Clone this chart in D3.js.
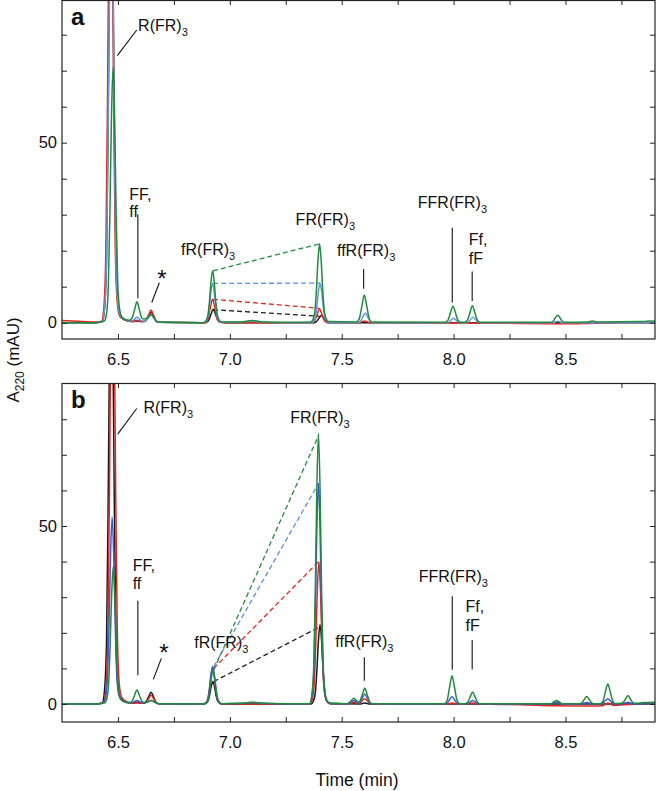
<!DOCTYPE html>
<html>
<head>
<meta charset="utf-8">
<script src="https://cdn.jsdelivr.net/npm/d3@7"></script>
<style>
	body { margin: 0; background: #fff; }
	text { font-family: "Liberation Sans", Arial, Helvetica, sans-serif; fill: #111; }
</style>
</head>
<body>
<svg id="chart" width="656" height="791"></svg>
<script>
// Trace order: black, red, blue, green
const seriesNames = ['black', 'red', 'blue', 'green'];
const xTicks = [6.5, 6.75, 7.0, 7.25, 7.5, 7.75, 8.0, 8.25, 8.5, 8.75];
const xLabels = ['6.5', '7.0', '7.5', '8.0', '8.5'];
const yTicks = [0, 10, 20, 30, 40, 50, 60, 70, 80];
const yLabels = [0, 50];

// Panel a, [time (min), A220 (mAU)]
const blackA = [[6.25,0],[6.40,0],[6.430,0.3],[6.440,3.9],[6.449,18],[6.456,55],[6.463,104],[6.470,130],[6.477,104],[6.484,55],[6.491,19],[6.500,5],[6.510,1.8],[6.53,0.8],[6.551,0.4],[6.563,0.3],[6.574,0.4],[6.585,0.5],[6.596,0.4],[6.607,0.3],[6.617,0.3],[6.626,0.6],[6.637,1.9],[6.648,3.0],[6.659,1.9],[6.670,0.5],[6.682,0.1],[6.88,0],[6.892,0],[6.904,0.5],[6.915,2.2],[6.926,3.7],[6.937,2.2],[6.948,0.5],[6.96,0.1],[6.98,0],[7.375,0],[7.387,0.3],[7.398,1.2],[7.409,2.0],[7.420,1.2],[7.431,0.3],[7.443,0],[8.90,0]];
const redA = [[6.25,0.6],[6.32,0.4],[6.40,0.2],[6.427,0.4],[6.437,4.2],[6.446,20],[6.453,59],[6.460,112],[6.467,140],[6.474,112],[6.481,59],[6.488,21],[6.497,5.6],[6.507,2],[6.53,0.8],[6.551,0.4],[6.563,0.3],[6.574,0.5],[6.585,0.7],[6.596,0.5],[6.607,0.3],[6.617,0.3],[6.626,0.7],[6.637,2.1],[6.648,3.5],[6.659,2.1],[6.670,0.5],[6.682,0.1],[6.88,0],[6.889,0],[6.901,0.8],[6.912,3.9],[6.923,6.5],[6.934,3.9],[6.945,0.9],[6.957,0.1],[6.98,0],[7.367,0],[7.379,0.5],[7.390,2.3],[7.401,3.8],[7.412,2.3],[7.423,0.5],[7.435,0],[7.58,0],[7.591,0.3],[7.602,0.5],[7.613,0.3],[7.625,0],[8.30,-0.2],[8.45,-0.3],[8.60,-0.2],[8.75,0],[8.90,0]];
const blueA = [[6.25,0],[6.40,0],[6.430,0.4],[6.440,3.7],[6.449,17],[6.456,51],[6.463,98],[6.470,122],[6.477,98],[6.484,51],[6.491,18],[6.500,5],[6.510,2],[6.53,1],[6.551,0.5],[6.563,0.5],[6.574,1.0],[6.585,1.5],[6.596,1.0],[6.607,0.5],[6.617,0.4],[6.626,0.6],[6.637,1.4],[6.648,2.2],[6.659,1.4],[6.670,0.4],[6.682,0.1],[6.88,0],[6.893,0.3],[6.902,1.5],[6.909,4.6],[6.916,8.7],[6.923,10.9],[6.930,8.7],[6.937,4.6],[6.944,1.6],[6.953,0.4],[6.963,0.1],[7.05,0.2],[7.10,0.4],[7.15,0.2],[7.25,0],[7.363,0],[7.373,0.3],[7.382,1.5],[7.389,4.6],[7.396,8.8],[7.403,11],[7.410,8.8],[7.417,4.6],[7.424,1.7],[7.433,0.4],[7.443,0],[7.571,0],[7.583,0.35],[7.594,1.6],[7.605,2.7],[7.616,1.6],[7.627,0.4],[7.639,0],[7.966,0],[7.978,0.15],[7.989,0.7],[8.000,1.2],[8.011,0.7],[8.022,0.15],[8.034,0],[8.053,0],[8.065,0.2],[8.076,0.9],[8.087,1.5],[8.098,0.9],[8.109,0.2],[8.121,0],[8.44,0],[8.454,0.2],[8.465,0.4],[8.476,0.2],[8.49,0],[8.90,0]];
const greenA = [[6.25,0],[6.40,0],[6.438,0.4],[6.448,2.1],[6.457,10],[6.464,30],[6.471,57],[6.478,71],[6.485,57],[6.492,30],[6.499,11],[6.508,3.5],[6.518,1.5],[6.535,0.8],[6.551,0.7],[6.563,1.3],[6.574,3.5],[6.585,5.8],[6.596,3.5],[6.607,1.3],[6.617,1.0],[6.626,1.2],[6.637,1.7],[6.648,2.3],[6.659,1.5],[6.670,0.6],[6.685,0.1],[6.88,0],[6.893,0.5],[6.902,2],[6.909,6],[6.916,11.5],[6.923,14.4],[6.930,11.5],[6.937,6],[6.944,2.2],[6.953,0.7],[6.965,0.2],[7.05,0.2],[7.10,0.6],[7.15,0.2],[7.25,0.1],[7.361,0.2],[7.371,0.8],[7.380,3.1],[7.387,9.2],[7.394,17.5],[7.401,21.9],[7.408,17.5],[7.415,9.2],[7.422,3.3],[7.431,1],[7.441,0.3],[7.567,0.2],[7.579,1.2],[7.590,4.6],[7.601,7.7],[7.612,4.6],[7.623,1.1],[7.635,0.2],[7.963,0.1],[7.975,0.7],[7.986,2.8],[7.997,4.6],[8.008,2.8],[8.019,0.7],[8.031,0.1],[8.050,0.1],[8.062,0.7],[8.073,2.8],[8.084,4.7],[8.095,2.8],[8.106,0.7],[8.118,0.1],[8.431,0.1],[8.443,0.3],[8.454,1.3],[8.465,2.1],[8.476,1.3],[8.487,0.3],[8.50,0.1],[8.60,0.2],[8.62,0.5],[8.64,0.2],[8.85,0.3],[8.88,0.5],[8.90,0.4]];

// Panel b
const blackB = [[6.25,0],[6.40,0],[6.430,0.3],[6.440,3.9],[6.449,18],[6.456,55],[6.463,104],[6.470,130],[6.477,104],[6.484,55],[6.491,19],[6.500,5],[6.510,1.8],[6.53,0.8],[6.551,0.4],[6.563,0.3],[6.574,0.4],[6.585,0.5],[6.596,0.4],[6.607,0.3],[6.617,0.3],[6.626,0.7],[6.637,2.0],[6.648,3.3],[6.659,2.0],[6.670,0.5],[6.682,0.1],[6.88,0],[6.894,0.2],[6.903,0.9],[6.910,2.6],[6.917,5],[6.924,6.3],[6.931,5],[6.938,2.6],[6.945,0.9],[6.954,0.25],[6.964,0],[7.363,0],[7.373,0.7],[7.382,3.1],[7.389,9.4],[7.396,17.8],[7.403,22.3],[7.410,17.8],[7.417,9.4],[7.424,3.3],[7.433,0.9],[7.443,0.2],[7.58,0],[7.603,0.3],[7.626,0],[8.90,0]];
const redB = [[6.25,0],[6.40,0],[6.436,0.4],[6.446,4.2],[6.455,20],[6.462,59],[6.469,112],[6.476,140],[6.483,112],[6.490,59],[6.497,21],[6.506,5.6],[6.516,2],[6.535,0.8],[6.551,0.3],[6.574,0.2],[6.585,0.3],[6.596,0.2],[6.617,0.2],[6.626,0.5],[6.637,1.5],[6.648,2.5],[6.659,1.5],[6.670,0.4],[6.682,0.1],[6.88,0],[6.893,0.3],[6.902,1.4],[6.909,4.2],[6.916,8],[6.923,10],[6.930,8],[6.937,4.2],[6.944,1.5],[6.953,0.4],[6.963,0],[7.358,0],[7.368,1.2],[7.377,5.6],[7.384,16.8],[7.391,32],[7.398,40],[7.405,32],[7.412,16.8],[7.419,6],[7.428,1.6],[7.438,0.4],[7.45,0],[7.53,0],[7.554,0.5],[7.578,0],[7.591,0.9],[7.603,1.5],[7.614,0.9],[7.626,0.2],[7.64,0],[7.97,0],[7.993,0.3],[8.016,0],[8.062,0],[8.085,0.3],[8.108,0],[8.30,-0.2],[8.45,-0.5],[8.60,-0.6],[8.665,-0.5],[8.689,0.3],[8.713,-0.4],[8.80,-0.1],[8.90,0]];
const blueB = [[6.25,0],[6.40,0],[6.434,0.3],[6.444,1.6],[6.453,7.4],[6.460,22],[6.467,42],[6.474,52.5],[6.481,42],[6.488,22],[6.495,8],[6.504,2.5],[6.514,1.2],[6.535,0.5],[6.551,0.3],[6.563,0.35],[6.574,0.7],[6.585,1.0],[6.596,0.7],[6.607,0.35],[6.617,0.3],[6.626,0.4],[6.637,0.7],[6.648,1.0],[6.659,0.7],[6.670,0.3],[6.682,0.1],[6.88,0],[6.893,0.3],[6.902,1.5],[6.909,4.4],[6.916,8.4],[6.923,10.5],[6.930,8.4],[6.937,4.4],[6.944,1.6],[6.953,0.4],[6.963,0.1],[7.05,0.2],[7.10,0.4],[7.15,0.2],[7.25,0],[7.356,0],[7.366,1.9],[7.375,8.7],[7.382,26],[7.389,49.6],[7.396,62],[7.403,49.6],[7.410,26],[7.417,9.3],[7.426,2.5],[7.436,0.6],[7.45,0.1],[7.52,0],[7.532,0.13],[7.543,0.6],[7.554,1.0],[7.565,0.6],[7.576,0.2],[7.581,0.4],[7.592,1.7],[7.603,2.8],[7.614,1.7],[7.625,0.4],[7.637,0],[7.959,0],[7.971,0.26],[7.982,1.2],[7.993,2.0],[8.004,1.2],[8.015,0.28],[8.027,0],[8.052,0],[8.064,0.13],[8.075,0.6],[8.086,1.0],[8.097,0.6],[8.108,0.14],[8.12,0],[8.436,0],[8.448,0.3],[8.46,0.5],[8.472,0.3],[8.484,0],[8.571,0],[8.584,0.25],[8.595,0.4],[8.606,0.25],[8.619,0],[8.655,0],[8.667,0.2],[8.678,0.9],[8.689,1.5],[8.700,0.9],[8.711,0.2],[8.723,0],[8.755,0],[8.767,0.3],[8.779,0.5],[8.791,0.3],[8.803,0],[8.90,0]];
const greenB = [[6.25,0],[6.40,0],[6.439,0.3],[6.449,1.2],[6.458,5.4],[6.465,16.2],[6.472,30.9],[6.479,38.6],[6.486,30.9],[6.493,16.2],[6.500,6],[6.509,2],[6.519,1],[6.535,0.5],[6.551,0.3],[6.563,0.8],[6.574,2.4],[6.585,3.9],[6.596,2.4],[6.607,0.8],[6.617,0.4],[6.626,0.5],[6.637,0.7],[6.648,1.0],[6.659,0.7],[6.670,0.3],[6.682,0.1],[6.88,0],[6.895,0.3],[6.904,1.3],[6.911,4],[6.918,7.6],[6.925,9.5],[6.932,7.6],[6.939,4],[6.946,1.4],[6.955,0.4],[6.965,0.1],[7.05,0.2],[7.10,0.5],[7.15,0.2],[7.25,0.1],[7.356,0.1],[7.366,2.3],[7.375,10.6],[7.382,32],[7.389,61],[7.396,76],[7.403,61],[7.410,32],[7.417,11.4],[7.426,3],[7.436,0.8],[7.45,0.2],[7.52,0.1],[7.532,0.3],[7.543,1.0],[7.554,1.6],[7.565,1.0],[7.576,0.5],[7.581,0.8],[7.592,2.6],[7.603,4.4],[7.614,2.6],[7.625,0.6],[7.637,0.1],[7.959,0.1],[7.971,1.0],[7.982,4.7],[7.993,7.9],[8.004,4.7],[8.015,1.1],[8.027,0.1],[8.051,0.1],[8.063,0.45],[8.074,2.0],[8.085,3.4],[8.096,2.0],[8.107,0.5],[8.119,0.1],[8.436,0.1],[8.448,0.6],[8.46,1.0],[8.472,0.6],[8.484,0.1],[8.561,0.1],[8.573,0.3],[8.584,1.3],[8.595,2.1],[8.606,1.3],[8.617,0.3],[8.629,0.1],[8.655,0.1],[8.667,0.7],[8.678,3.4],[8.689,5.6],[8.700,3.4],[8.711,0.8],[8.723,0.1],[8.745,0.2],[8.757,0.4],[8.768,1.4],[8.779,2.4],[8.790,1.4],[8.801,0.4],[8.813,0.2],[8.85,0.4],[8.90,0.5]];

// fR(FR)3 -> FR(FR)3 apex heights, used by the dashed connectors (black, red, blue, green)
const fRApexA = [3.6, 6.5, 10.9, 14.4];
const FRApexA = [1.8, 4.0, 11.0, 21.9];
const fRApexB = [6.3, 10.0, 10.5, 9.5];
const FRApexB = [21.5, 40.0, 62.0, 75.5];

const svg = d3.select('#chart');
const font = '"Liberation Sans", Arial, Helvetica, sans-serif';

const x = d3.scaleLinear().domain([6.25, 8.9]).range([62, 655]);

const panels = [
	{
		key: 'a', top: 0, bottom: 339, yDomain: [-4.53, 89.64],
		traces: [blackA, redA, blueA, greenA],
		colors: ['#1a1a1a', '#e3261d', '#6a95dc', '#1f8c3c'],
		dash: { t0: 6.925, t1: 7.401, from: fRApexA, to: FRApexA },
		// annotation positions in data units
		notes: [
			{ text: 'R(FR)', sub: '3', t: 6.590, v: 81.0 },
			{ text: 'FF,', t: 6.551, v: 34.1 },
			{ text: 'ff', t: 6.551, v: 29.4 },
			{ text: '*', t: 6.697, v: 10.0, anchor: 'middle' },
			{ text: 'fR(FR)', sub: '3', t: 6.782, v: 18.8 },
			{ text: 'FR(FR)', sub: '3', t: 7.294, v: 27.1 },
			{ text: 'ffR(FR)', sub: '3', t: 7.479, v: 18.5 },
			{ text: 'FFR(FR)', sub: '3', t: 7.840, v: 31.9 },
			{ text: 'Ff,', t: 8.068, v: 21.6 },
			{ text: 'fF', t: 8.068, v: 16.3 }
		],
		leaders: [
			[6.584, 81.3, 6.497, 74.2],
			[6.589, 30.1, 6.589, 6.8],
			[6.685, 11.1, 6.651, 5.6],
			[7.598, 14.9, 7.598, 9.4],
			[7.994, 26.4, 7.994, 5.6],
			[8.083, 14.2, 8.083, 6.0]
		]
	},
	{
		key: 'b', top: 383, bottom: 722, yDomain: [-5.06, 90.17],
		traces: [blackB, redB, blueB, greenB],
		colors: ['#1a1a1a', '#e3261d', '#4456c8', '#1f8c3c'],
		dash: { t0: 6.928, t1: 7.397, from: fRApexB, to: FRApexB },
		notes: [
			{ text: 'R(FR)', sub: '3', t: 6.614, v: 81.7 },
			{ text: 'FF,', t: 6.566, v: 37.4 },
			{ text: 'ff', t: 6.566, v: 32.3 },
			{ text: '*', t: 6.706, v: 12.2, anchor: 'middle' },
			{ text: 'fR(FR)', sub: '3', t: 6.841, v: 15.7 },
			{ text: 'FR(FR)', sub: '3', t: 7.270, v: 78.9 },
			{ text: 'ffR(FR)', sub: '3', t: 7.471, v: 16.0 },
			{ text: 'FFR(FR)', sub: '3', t: 7.844, v: 34.3 },
			{ text: 'Ff,', t: 8.053, v: 25.8 },
			{ text: 'fF', t: 8.053, v: 20.5 }
		],
		leaders: [
			[6.584, 83.0, 6.499, 75.8],
			[6.589, 29.0, 6.589, 8.1],
			[6.694, 12.8, 6.658, 6.9],
			[7.601, 13.1, 7.601, 6.5],
			[7.994, 30.3, 7.994, 9.6],
			[8.083, 18.0, 8.083, 9.7]
		]
	}
];
const dashColors = ['#222', '#e3261d', '#5b8fd8', '#1f8c3c'];

panels.forEach(p => {
	const y = d3.scaleLinear().domain(p.yDomain).range([p.bottom, p.top]);
	const g = svg.append('g');

	g.append('clipPath').attr('id', 'clip-' + p.key)
		.append('rect')
		.attr('x', x.range()[0]).attr('y', p.top)
		.attr('width', x.range()[1] - x.range()[0]).attr('height', p.bottom - p.top);

	const plot = g.append('g').attr('clip-path', `url(#clip-${p.key})`);

	// dashed connectors between fR(FR)3 and FR(FR)3 apexes
	plot.selectAll('line.dash')
		.data(seriesNames.map((s, i) => ({ from: p.dash.from[i], to: p.dash.to[i], color: dashColors[i] })))
		.join('line')
			.attr('class', 'dash')
			.attr('x1', x(p.dash.t0)).attr('x2', x(p.dash.t1))
			.attr('y1', d => y(d.from)).attr('y2', d => y(d.to))
			.attr('stroke', d => d.color)
			.attr('stroke-width', 1.3)
			.attr('stroke-dasharray', '5,3');

	const line = d3.line()
		.x(d => x(d[0]))
		.y(d => y(d[1]))
		.curve(d3.curveMonotoneX);

	plot.selectAll('path.trace')
		.data(p.traces)
		.join('path')
			.attr('class', 'trace')
			.attr('d', line)
			.attr('fill', 'none')
			.attr('stroke', (d, i) => p.colors[i])
			.attr('stroke-width', 1.5)
			.attr('stroke-linejoin', 'round');

	// axes, ticks pointing inward
	const styleAxis = sel => {
		sel.select('.domain').remove();
		sel.selectAll('.tick line').attr('stroke', '#222').attr('stroke-width', 1);
		sel.selectAll('text').attr('font-family', font).attr('font-size', 16.5).attr('fill', '#111');
	};

	g.append('g').attr('transform', `translate(0,${p.bottom})`)
		.call(d3.axisBottom(x).tickValues(xTicks).tickSize(-5).tickPadding(14)
			.tickFormat(d => xLabels.includes(d.toFixed(1)) && Math.abs(d * 2 - Math.round(d * 2)) < 1e-6 ? d.toFixed(1) : ''))
		.call(styleAxis);
	g.append('g').attr('transform', `translate(0,${p.top})`)
		.call(d3.axisTop(x).tickValues(xTicks).tickSize(-5).tickFormat(''))
		.call(styleAxis);
	g.append('g').attr('transform', `translate(${x.range()[0]},0)`)
		.call(d3.axisLeft(y).tickValues(yTicks).tickSize(-5).tickPadding(5)
			.tickFormat(d => yLabels.includes(d) ? d : ''))
		.call(styleAxis);
	g.append('g').attr('transform', `translate(${x.range()[1]},0)`)
		.call(d3.axisRight(y).tickValues(yTicks).tickSize(-5).tickFormat(''))
		.call(styleAxis);

	g.append('rect')
		.attr('x', x.range()[0]).attr('y', p.top + 0.5)
		.attr('width', x.range()[1] - x.range()[0]).attr('height', p.bottom - p.top - 0.5)
		.attr('fill', 'none').attr('stroke', '#222').attr('stroke-width', 1.2);

	// panel letter
	g.append('text')
		.attr('x', 71).attr('y', p.top + 25)
		.attr('font-size', 24).attr('font-weight', 'bold')
		.text(p.key);

	// peak annotations
	g.selectAll('line.leader')
		.data(p.leaders)
		.join('line')
			.attr('class', 'leader')
			.attr('x1', d => x(d[0])).attr('y1', d => y(d[1]))
			.attr('x2', d => x(d[2])).attr('y2', d => y(d[3]))
			.attr('stroke', '#111').attr('stroke-width', 1.1);

	const notes = g.selectAll('text.note')
		.data(p.notes)
		.join('text')
			.attr('class', 'note')
			.attr('x', d => x(d.t)).attr('y', d => y(d.v))
			.attr('font-size', d => d.text === '*' ? 24 : 16)
			.attr('text-anchor', d => d.anchor || 'start');
	notes.append('tspan').text(d => d.text);
	notes.filter(d => d.sub).append('tspan')
		.attr('dy', 5).attr('font-size', 11)
		.text(d => d.sub);
});

// axis titles
const yTitle = svg.append('text')
	.attr('transform', 'translate(19,360) rotate(-90)')
	.attr('text-anchor', 'middle')
	.attr('font-size', 17);
yTitle.append('tspan').text('A');
yTitle.append('tspan').attr('dy', 5).attr('font-size', 12).text('220');
yTitle.append('tspan').attr('dy', -5).text(' (mAU)');

svg.append('text')
	.attr('x', 357).attr('y', 786)
	.attr('text-anchor', 'middle')
	.attr('font-size', 17.5)
	.text('Time (min)');
</script>
</body>
</html>
